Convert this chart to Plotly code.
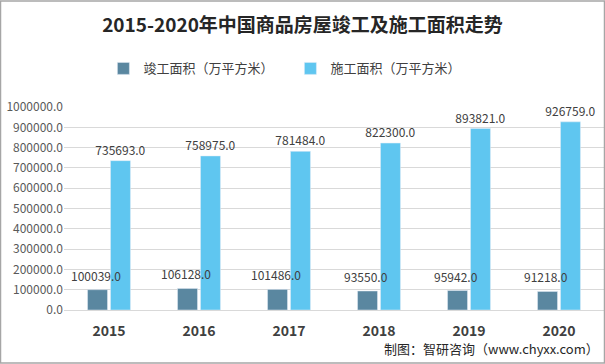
import plotly.graph_objects as go

years = ["2015", "2016", "2017", "2018", "2019", "2020"]
completed = [100039.0, 106128.0, 101486.0, 93550.0, 95942.0, 91218.0]
under_construction = [735693.0, 758975.0, 781484.0, 822300.0, 893821.0, 926759.0]
y_ticks = [0, 100000, 200000, 300000, 400000, 500000, 600000, 700000, 800000, 900000, 1000000]

font_cjk = "Microsoft YaHei, Noto Sans CJK SC, sans-serif"
label_font = dict(size=12, color="#404040", family=font_cjk)

fig = go.Figure()
fig.add_trace(go.Bar(
    x=years, y=completed, name="竣工面积（万平方米）",
    marker_color="#5A87A0",
))
fig.add_trace(go.Bar(
    x=years, y=under_construction, name="施工面积（万平方米）",
    marker_color="#5FC6F0",
    text=[f"{v:.1f}" for v in under_construction], textposition="outside",
    textfont=label_font, constraintext="none", cliponaxis=False,
))

# labels for the completed series drawn on top of everything (x = category index)
for i, v in enumerate(completed):
    fig.add_annotation(x=i, y=v, xshift=-13, yshift=4, yanchor="bottom",
                       text=f"{v:.1f}", showarrow=False, font=label_font)

fig.update_layout(
    width=605, height=364,
    margin=dict(l=64, r=1, t=107, b=54, autoexpand=False),
    paper_bgcolor="white", plot_bgcolor="white",
    barmode="group", bargap=0.49, bargroupgap=0.13,
    font=dict(family=font_cjk, color="#595959"),
    title=dict(text="<b>2015-2020年中国商品房屋竣工及施工面积走势</b>",
               x=0.5, xanchor="center", y=0.93, yanchor="middle",
               font=dict(size=19, color="#262626", family="Noto Sans CJK SC, sans-serif")),
    legend=dict(orientation="h", x=0.48, xanchor="center", y=1.19, yanchor="middle",
                xref="container",
                font=dict(size=13, color="#404040"), itemwidth=30,
                traceorder="normal", entrywidthmode="pixels", entrywidth=142),
    showlegend=True,
)
fig.update_yaxes(range=[0, 1000000], tickvals=y_ticks, tickformat=".1f",
                 showgrid=True, gridcolor="#D9D9D9", gridwidth=1,
                 zeroline=False, showline=False, automargin=False,
                 tickfont=dict(size=12, color="#595959"), ticks="", ticklen=0)
fig.update_xaxes(type="category", range=[-0.5, len(years) - 0.5],
                 showline=True, linecolor="#D9D9D9", ticks="", automargin=False,
                 ticklabelstandoff=8,
                 tickfont=dict(size=14, color="#404040", family="Noto Sans CJK SC, sans-serif"),
                 tickprefix="<b>", ticksuffix="</b>")

fig.add_annotation(text="制图：智研咨询（www.chyxx.com）", xref="paper", yref="paper",
                   x=1 - 3/540, xanchor="right", y=-38/203, yanchor="middle",
                   showarrow=False, font=dict(size=13, color="#262626"))

fig.add_shape(type="rect", xref="paper", yref="paper",
              x0=-63.5/540, x1=1 + 0.5/540, y0=-53/203, y1=1 + 106/203,
              line=dict(color="#A6A6A6", width=1.5))

fig.write_html("out.html", config={"displayModeBar": False},
               post_script="document.body.style.margin='0';document.body.style.padding='0';")
